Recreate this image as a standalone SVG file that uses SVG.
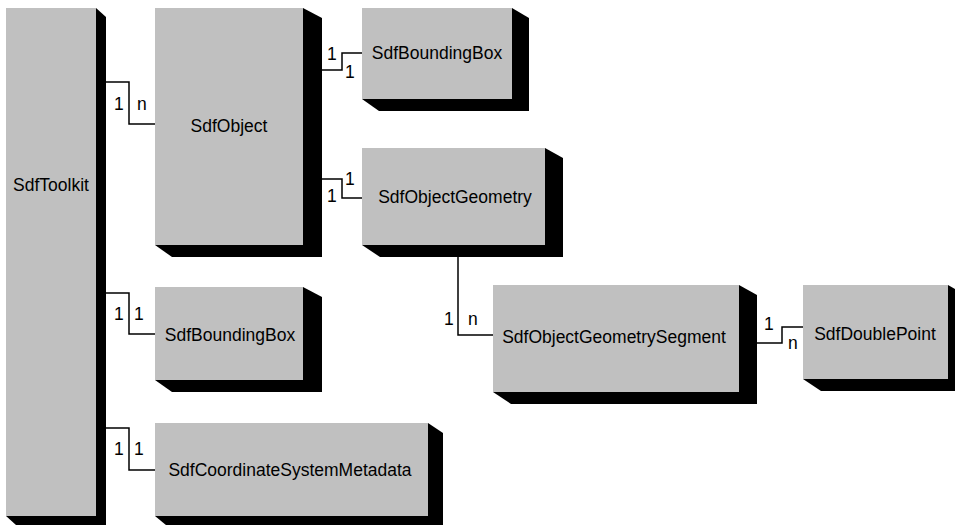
<svg xmlns="http://www.w3.org/2000/svg" width="955" height="525" viewBox="0 0 955 525">
<style>
.box{fill:#c0c0c0}
.sh{fill:#000}
.t{font-family:"Liberation Sans",Arial,sans-serif;font-size:17.5px;fill:#000;text-anchor:middle}
.l{font-family:"Liberation Sans",Arial,sans-serif;font-size:17.5px;fill:#000}
.c{fill:none;stroke:#000;stroke-width:1.5}
</style>
<rect width="955" height="525" fill="#fff"/>
<g id="connectors">
<path class="c" d="M106,82 H129 V124 H155"/>
<path class="c" d="M322,70 H342 V53 H362"/>
<path class="c" d="M322,179 H342 V198 H362"/>
<path class="c" d="M106,293 H129 V334 H155"/>
<path class="c" d="M106,428 H129 V470 H155"/>
<path class="c" d="M458,257 V335 H493"/>
<path class="c" d="M757,343 H782 V327 H803"/>
<text class="l" x="114" y="110">1</text>
<text class="l" x="137" y="110">n</text>
<text class="l" x="327" y="60">1</text>
<text class="l" x="345" y="78">1</text>
<text class="l" x="345" y="185">1</text>
<text class="l" x="327" y="202">1</text>
<text class="l" x="114" y="320">1</text>
<text class="l" x="134" y="320">1</text>
<text class="l" x="114" y="455">1</text>
<text class="l" x="134" y="455">1</text>
<text class="l" x="444" y="325">1</text>
<text class="l" x="468" y="325">n</text>
<text class="l" x="764" y="330">1</text>
<text class="l" x="788" y="349">n</text>
</g>
<g id="SdfToolkit">
<polygon class="sh" points="96,8 106,17 106,525 16,525 6,516"/>
<rect class="box" x="6" y="8" width="90" height="508"/>
<text class="t" x="51" y="191">SdfToolkit</text>
</g>
<g id="SdfObject">
<polygon class="sh" points="303,8 322,18 322,257 172,257 155,245"/>
<rect class="box" x="155" y="8" width="148" height="237"/>
<text class="t" x="229" y="132">SdfObject</text>
</g>
<g id="SdfBoundingBox1">
<polygon class="sh" points="512,8 529,18 529,111 379,111 362,99"/>
<rect class="box" x="362" y="8" width="150" height="91"/>
<text class="t" x="437" y="59">SdfBoundingBox</text>
</g>
<g id="SdfObjectGeometry">
<polygon class="sh" points="545,148 563,158 563,257 380,257 362,245"/>
<rect class="box" x="362" y="148" width="183" height="97"/>
<text class="t" x="455" y="203">SdfObjectGeometry</text>
</g>
<g id="SdfObjectGeometrySegment">
<polygon class="sh" points="739,285 757,295 757,404 511,404 493,392"/>
<rect class="box" x="493" y="285" width="246" height="107"/>
<text class="t" x="614" y="343">SdfObjectGeometrySegment</text>
</g>
<g id="SdfDoublePoint">
<polygon class="sh" points="948,285 966,295 966,391 821,391 803,379"/>
<rect class="box" x="803" y="285" width="145" height="94"/>
<text class="t" x="875" y="340">SdfDoublePoint</text>
</g>
<g id="SdfBoundingBox2">
<polygon class="sh" points="303,287 322,297 322,392 172,392 155,380"/>
<rect class="box" x="155" y="287" width="148" height="93"/>
<text class="t" x="230" y="341">SdfBoundingBox</text>
</g>
<g id="SdfCoordinateSystemMetadata">
<polygon class="sh" points="428,423 443,433 443,530 172,530 155,516"/>
<rect class="box" x="155" y="423" width="273" height="93"/>
<text class="t" x="290" y="476">SdfCoordinateSystemMetadata</text>
</g>
</svg>
